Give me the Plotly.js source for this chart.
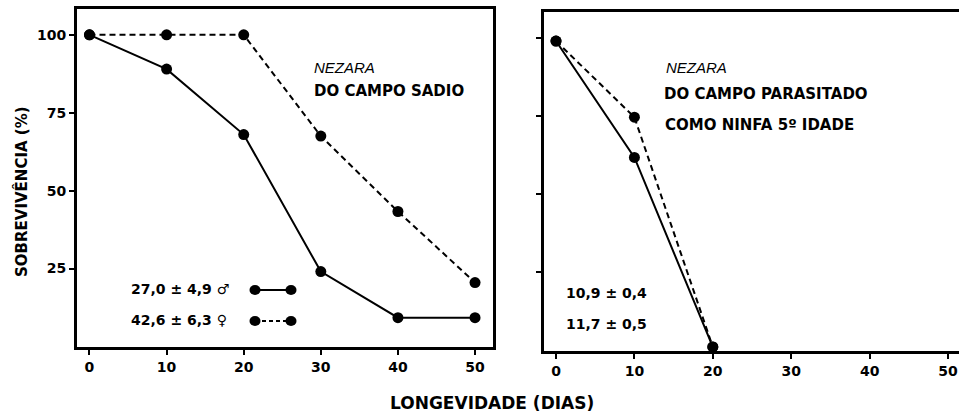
<!DOCTYPE html>
<html>
<head>
<meta charset="utf-8">
<script src="https://cdn.plot.ly/plotly-3.0.1.min.js"></script>
<style>html,body{margin:0;padding:0;background:#fff;}#chart{width:959px;height:416px;}</style>
</head>
<body>
<div id="chart"></div>
<script>
// ---- data ----
var days = [0, 10, 20, 30, 40, 50];
var sadioMacho = [100, 89, 68, 24, 9.2, 9.2];
var sadioFemea = [100, 100, 100, 67.5, 43.3, 20.5];
var parasDays = [0, 10, 20];
var parasMacho = [99, 61.7, 1];
var parasFemea = [99, 74.6, 1];
var xTicks = [0, 10, 20, 30, 40, 50];
var yTicks = [25, 50, 75, 100];
var legendLabels = ["27,0 \u00b1 4,9 \u2642", "42,6 \u00b1 6,3 \u2640"];
var parasLabels = ["10,9 \u00b1 0,4", "11,7 \u00b1 0,5"];

var W = 959, H = 416;
function px(x){ return x / W; }
function py(y){ return 1 - y / H; }

var BFONT = "DejaVu Sans, Liberation Sans, sans-serif";
var IFONT = "Liberation Sans, Arial, sans-serif";
function bf(size){ return {family: BFONT, size: size, color: "#000", weight: "bold"}; }
var DASH = "6px,4px";

function tr(x, y, dash, xa, ya){
  return {x: x, y: y, xaxis: xa, yaxis: ya, type: "scatter", mode: "lines+markers",
    line: {color: "#000", width: 2, dash: dash},
    marker: {color: "#000", size: 11}, showlegend: false, hoverinfo: "skip"};
}

var data = [
  tr(days, sadioMacho, "solid", "x", "y"),
  tr(days, sadioFemea, DASH, "x", "y"),
  tr(parasDays, parasMacho, "solid", "x2", "y2"),
  tr(parasDays, parasFemea, DASH, "x2", "y2")
];

var axBase = {showgrid: false, zeroline: false, showline: true, linecolor: "#000",
  ticks: "outside", tickcolor: "#000", tickwidth: 2, ticklen: 5, tickfont: bf(14), fixedrange: true};

var layout = {
  width: W, height: H,
  margin: {l: 0, r: 0, t: 0, b: 0},
  paper_bgcolor: "#fff", plot_bgcolor: "#fff",
  showlegend: false,
  xaxis: Object.assign({}, axBase, {domain: [px(77), px(493)], range: [-1.62, 52.33],
    tickvals: xTicks, linewidth: 3, mirror: true, anchor: "y"}),
  yaxis: Object.assign({}, axBase, {domain: [py(347), py(9)], range: [-0.2, 108.3],
    tickvals: yTicks, linewidth: 3, mirror: true, anchor: "x"}),
  xaxis2: Object.assign({}, axBase, {domain: [px(544), 1], range: [-1.53, 51.4],
    tickvals: xTicks, linewidth: 3, mirror: true, anchor: "y2"}),
  yaxis2: Object.assign({}, axBase, {domain: [py(351), py(12)], range: [-0.3, 108.3],
    tickvals: yTicks, showticklabels: false, linewidth: 3, mirror: false, anchor: "x2"}),
  annotations: [],
  shapes: []
};

function ann(text, x, y, opts){
  var a = Object.assign({text: text, x: px(x), y: py(y), xref: "paper", yref: "paper",
    xanchor: "left", yanchor: "middle", showarrow: false, font: bf(15)}, opts || {});
  layout.annotations.push(a);
}
var ital = {font: {family: IFONT, size: 15, color: "#000", style: "italic"}};

ann("NEZARA", 312, 68, ital);
ann("DO CAMPO SADIO", 312, 91);
ann("NEZARA", 664, 67, ital);
ann("DO CAMPO PARASITADO", 662, 93.5);
ann("COMO NINFA 5\u00ba IDADE", 663, 124.5);
ann(legendLabels[0], 129, 289, {font: bf(14)});
ann(legendLabels[1], 129, 320, {font: bf(14)});
ann(parasLabels[0], 564, 292.5, {font: bf(14)});
ann(parasLabels[1], 564, 324, {font: bf(14)});
ann("SOBREVIV\u00caNCIA (%)", 21, 192, {xanchor: "center", textangle: -90});
ann("LONGEVIDADE (DIAS)", 492, 403, {xanchor: "center", font: bf(17)});

// legend samples
function sample(y, dash){
  layout.shapes.push({type: "line", xref: "paper", yref: "paper", x0: px(255), x1: px(291),
    y0: py(y), y1: py(y), line: {color: "#000", width: 2, dash: dash}});
  [255, 291].forEach(function(cx){
    layout.shapes.push({type: "circle", xref: "paper", yref: "paper",
      x0: px(cx - 5.5), x1: px(cx + 5.5), y0: py(y + 5), y1: py(y - 5),
      fillcolor: "#000", line: {color: "#000", width: 0}});
  });
}
sample(290, "solid");
sample(321, "4px,3px");

Plotly.newPlot("chart", data, layout, {displayModeBar: false, staticPlot: true});
</script>
</body>
</html>
